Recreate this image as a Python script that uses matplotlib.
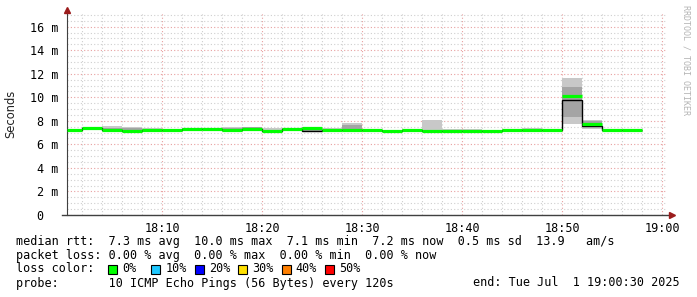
import matplotlib
matplotlib.use('Agg')
import matplotlib.pyplot as plt
from matplotlib.patches import Rectangle

# time in minutes after 18:00, one segment per 120 s probe round
edges = [0.5, 2, 4, 6, 8, 10, 12, 14, 16, 18, 20, 22, 24, 26, 28, 30,
         32, 34, 36, 38, 40, 42, 44, 46, 48, 50, 52, 54, 56, 58]

median = [7.20, 7.35, 7.20, 7.15, 7.25, 7.20, 7.30, 7.30, 7.20, 7.30,
          7.15, 7.30, 7.35, 7.25, 7.20, 7.20, 7.15, 7.20, 7.15, 7.15,
          7.15, 7.15, 7.20, 7.25, 7.20, 10.10, 7.75, 7.20, 7.20]
avg    = [7.20, 7.35, 7.20, 7.15, 7.25, 7.20, 7.30, 7.30, 7.20, 7.30,
          7.15, 7.30, 7.15, 7.25, 7.20, 7.20, 7.15, 7.20, 7.15, 7.15,
          7.15, 7.15, 7.20, 7.25, 7.20, 9.75, 7.60, 7.20, 7.20]
# outer smoke (min..max of the pings)
smoke_lo = [7.10, 7.20, 7.10, 7.05, 7.15, 7.10, 7.20, 7.20, 7.10, 7.20,
            7.05, 7.20, 7.10, 7.15, 7.10, 7.10, 7.05, 7.10, 7.05, 7.05,
            7.05, 7.05, 7.10, 7.15, 7.10, 7.75, 7.30, 7.10, 7.10]
smoke_hi = [7.30, 7.45, 7.60, 7.50, 7.35, 7.30, 7.40, 7.40, 7.45, 7.50,
            7.35, 7.42, 7.50, 7.35, 7.80, 7.30, 7.25, 7.30, 8.10, 7.28,
            7.28, 7.25, 7.30, 7.35, 7.30, 11.60, 8.10, 7.30, 7.30]
# inner (darker) smoke
inner_lo = [7.15, 7.25, 7.15, 7.10, 7.20, 7.15, 7.25, 7.25, 7.15, 7.25,
            7.10, 7.25, 7.15, 7.20, 7.15, 7.15, 7.10, 7.15, 7.10, 7.10,
            7.10, 7.10, 7.15, 7.20, 7.15, 8.30, 7.45, 7.15, 7.15]
inner_hi = [7.25, 7.40, 7.35, 7.40, 7.30, 7.25, 7.35, 7.35, 7.35, 7.48,
            7.25, 7.35, 7.45, 7.30, 7.65, 7.25, 7.20, 7.25, 7.25, 7.20,
            7.20, 7.20, 7.25, 7.30, 7.25, 10.90, 7.95, 7.25, 7.25]

xmajor = [10, 20, 30, 40, 50, 60]
xlabels = ['18:10', '18:20', '18:30', '18:40', '18:50', '19:00']
ymajor = [0, 2, 4, 6, 8, 10, 12, 14, 16]
ylabels = ['0  ', '2 m', '4 m', '6 m', '8 m', '10 m', '12 m', '14 m', '16 m']

loss_labels = ['0%', '10%', '20%', '30%', '40%', '50%']
loss_colors = ['#00ff00', '#1ec8ff', '#0000ff', '#ffe000', '#ff7f00', '#ff0000']

mono = 'DejaVu Sans Mono'
fs = 8.5
W, H = 697, 297

fig = plt.figure(figsize=(W / 100, H / 100), dpi=100)
fig.patch.set_facecolor('white')
ax = fig.add_axes([67 / W, 82 / H, 600 / W, 202 / H])
ax.set_xlim(0.5, 60.5)
ax.set_ylim(0, 17.16)

# grid
ax.set_xticks(xmajor)
ax.set_xticks([m for m in range(2, 60, 2) if m % 10], minor=True)
ax.set_yticks(ymajor)
ax.set_yticks([v / 2 for v in range(1, 35) if v % 4], minor=True)
ax.grid(which='minor', color='#cfcfcf', linestyle=(0, (1, 2)), linewidth=0.8)
ax.grid(which='major', color='#e8a0a0', linestyle=(0, (1, 2)), linewidth=0.8)
ax.set_axisbelow(True)

ax.set_xticklabels(xlabels, family=mono, fontsize=fs)
ax.set_yticklabels(ylabels, family=mono, fontsize=fs)
ax.tick_params(which='both', length=0)
ax.tick_params(axis='x', pad=5)
ax.tick_params(axis='y', pad=6)

for s in ['top', 'right', 'bottom']:
    ax.spines[s].set_visible(False)
ax.spines['left'].set_color('#404040')

lefts = edges[:-1]
widths = [b - a for a, b in zip(edges[:-1], edges[1:])]

ax.bar(lefts, [h - l for l, h in zip(smoke_lo, smoke_hi)], width=widths,
       bottom=smoke_lo, align='edge', color='#c8c8c8', linewidth=0, zorder=2)
ax.bar(lefts, [h - l for l, h in zip(inner_lo, inner_hi)], width=widths,
       bottom=inner_lo, align='edge', color='#a4a4a4', linewidth=0, zorder=2)

ax.stairs(avg, edges, color='black', linewidth=1.0, baseline=None, zorder=3)
ax.hlines(median, edges[:-1], edges[1:], color='#00ff00', linewidth=2.3, zorder=4)

# axis lines with arrows
ax.plot([-5 / 600, 603 / 600], [0, 0], color='#404040', linewidth=1,
        transform=ax.transAxes, clip_on=False, zorder=5)
ax.plot([0], [1 + 3 / 202], marker='^', ms=5, color='#9b1c1c',
        transform=ax.transAxes, clip_on=False, zorder=6)
ax.plot([605 / 600], [0], marker='>', ms=5, color='#9b1c1c',
        transform=ax.transAxes, clip_on=False, zorder=6)

fig.text(11 / W, 1 - 114 / H, 'Seconds', rotation=90, fontsize=8.3,
         ha='center', va='center', color='#222222')
fig.text(686 / W, 1 - 5 / H, 'RRDTOOL / TOBI OETIKER', rotation=270,
         family=mono, fontsize=6, ha='center', va='top', color='#b4b4b4')

lines = [
    'median rtt:  7.3 ms avg  10.0 ms max  7.1 ms min  7.2 ms now  0.5 ms sd  13.9   am/s',
    'packet loss: 0.00 % avg  0.00 % max  0.00 % min  0.00 % now',
]
for i, t in enumerate(lines):
    fig.text(16 / W, 1 - (241 + 14 * i) / H, t, family=mono, fontsize=fs, va='center')

fig.text(16 / W, 1 - 269 / H, 'loss color:', family=mono, fontsize=fs, va='center')
for i, (lab, col) in enumerate(zip(loss_labels, loss_colors)):
    x0 = 108 + 43.4 * i
    fig.add_artist(Rectangle((x0 / W, 1 - 273.5 / H), 9 / W, 9 / H,
                             transform=fig.transFigure, facecolor=col,
                             edgecolor='black', linewidth=0.8))
    fig.text((x0 + 14) / W, 1 - 269 / H, lab, family=mono, fontsize=fs, va='center')

fig.text(16 / W, 1 - 283 / H, 'probe:       10 ICMP Echo Pings (56 Bytes) every 120s',
         family=mono, fontsize=fs, va='center')
fig.text(680 / W, 1 - 283 / H, 'end: Tue Jul  1 19:00:30 2025',
         family=mono, fontsize=fs, va='center', ha='right')

fig.savefig('out.png', dpi=100)
